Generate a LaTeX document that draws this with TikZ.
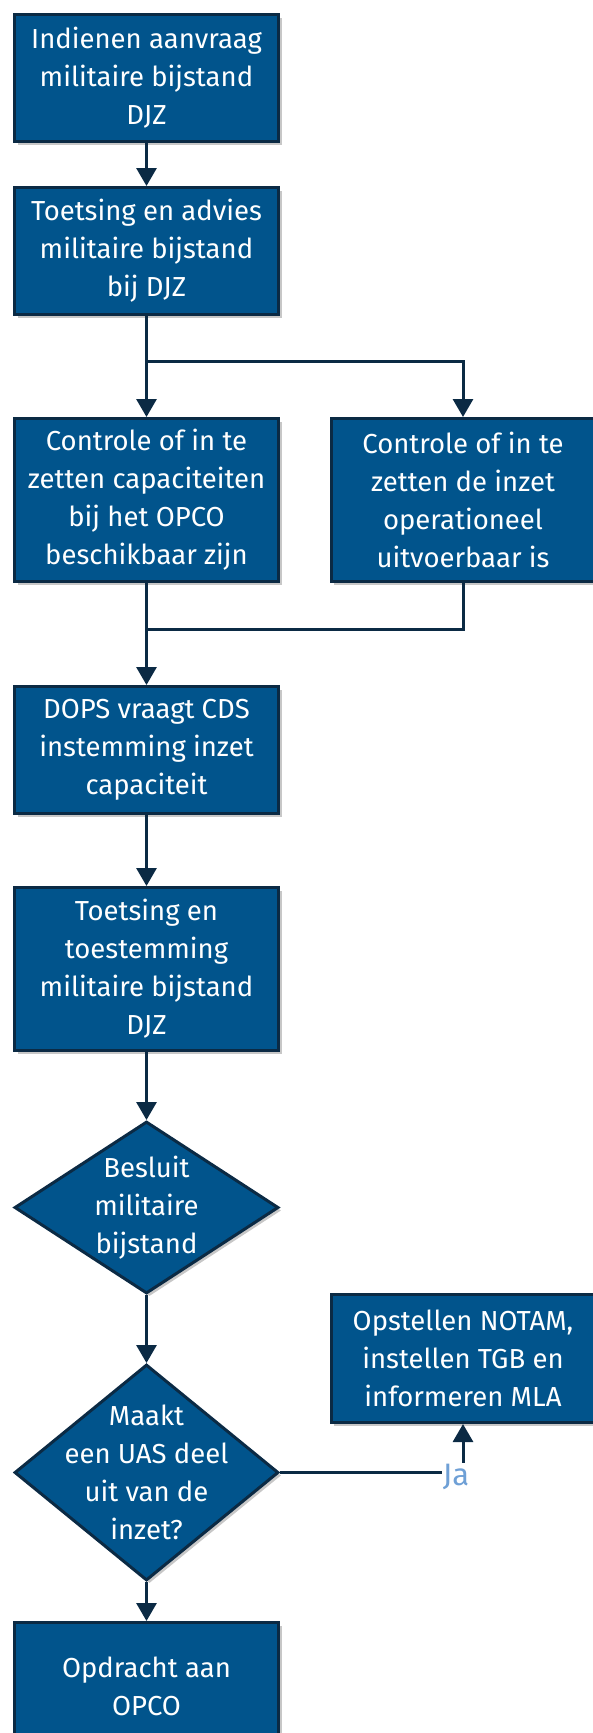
\documentclass[tikz,border=0pt]{standalone}
\usepackage{fontspec}
\setmainfont{Fira Sans}
\usetikzlibrary{arrows.meta,shapes.geometric,shadows}
\definecolor{boxfill}{HTML}{01548C}
\definecolor{navy}{HTML}{0B2A44}
\definecolor{jablue}{HTML}{6FA0D6}
\tikzset{
  shade1/.style={drop shadow={shadow xshift=3pt,shadow yshift=-3pt,opacity=0.22,fill=black}},
  flowbox/.style={rectangle,draw=navy,line width=3pt,fill=boxfill,text=white,
    minimum width=264pt,align=center,inner sep=0pt,shade1,
    font=\fontsize{27.5}{38}\selectfont},
  decide/.style={diamond,draw=navy,line width=3pt,fill=boxfill,shade1,inner sep=0pt},
  dtext/.style={text=white,align=center,font=\fontsize{27.5}{38}\selectfont},
  arr/.style={draw=navy,line width=3pt,-{Triangle[width=20pt,length=18pt]}},
  ln/.style={draw=navy,line width=3pt},
}
\begin{document}
\begin{tikzpicture}[x=1pt,y=-1pt]
\useasboundingbox (0,0) rectangle (593,1733);
\begin{scope}
\clip (0,0) rectangle (593,1733);
\node[flowbox,minimum height=127pt] (b1) at (146.5,78) {Indienen aanvraag\\militaire bijstand\\DJZ};
\node[flowbox,minimum height=127pt] (b2) at (146.5,251) {Toetsing en advies\\militaire bijstand\\bij DJZ};
\node[flowbox,minimum height=163pt] (b3) at (146.5,500) {Controle of in te\\zetten capaciteiten\\bij het OPCO\\beschikbaar zijn};
\node[flowbox,minimum height=163pt] (b4) at (463,500) {Controle of in te\\zetten de inzet\\operationeel\\uitvoerbaar is};
\node[flowbox,minimum height=127pt] (b5) at (146.5,750) {DOPS vraagt CDS\\instemming inzet\\capaciteit};
\node[flowbox,minimum height=163pt] (b6) at (146.5,969) {Toetsing en\\toestemming\\militaire bijstand\\DJZ};
\node[decide,minimum width=264pt,minimum height=172pt] (d1) at (146.5,1207.5) {};
\node[dtext] (d1t) at (d1.center) {Besluit\\militaire\\bijstand};
\node[decide,minimum width=264pt,minimum height=216pt] (d2) at (146.5,1472.5) {};
\node[dtext] (d2t) at (d2.center) {Maakt\\een UAS deel\\uit van de\\inzet?};
\node[flowbox,minimum height=128pt] (b7) at (463,1358.5) {Opstellen NOTAM,\\instellen TGB en\\informeren MLA};
\node[flowbox,minimum height=127pt] (b8) at (146.5,1686) {Opdracht aan\\OPCO};

\coordinate (j1) at (146.5,361);
\coordinate (j2) at (146.5,629);
\coordinate (j3) at (463,1472.5);

\draw[arr] (b1) -- (b2);
\draw[arr] (b2) -- (b3);
\draw[arr] (j1) -| (b4);
\draw[ln] (b4) |- (j2);
\draw[arr] (b3) -- (b5);
\draw[arr] (b5) -- (b6);
\draw[arr] (b6) -- (d1);
\draw[arr] (d1) -- (d2);
\draw[arr] (d2) -- (b8);
\draw[arr] (d2.east) -- (j3) -- (b7.south);
\node[fill=white,text=jablue,inner sep=1pt,font=\fontsize{31}{33}\selectfont] (ja) at (456,1477) {Ja};
\end{scope}
\end{tikzpicture}
\end{document}
